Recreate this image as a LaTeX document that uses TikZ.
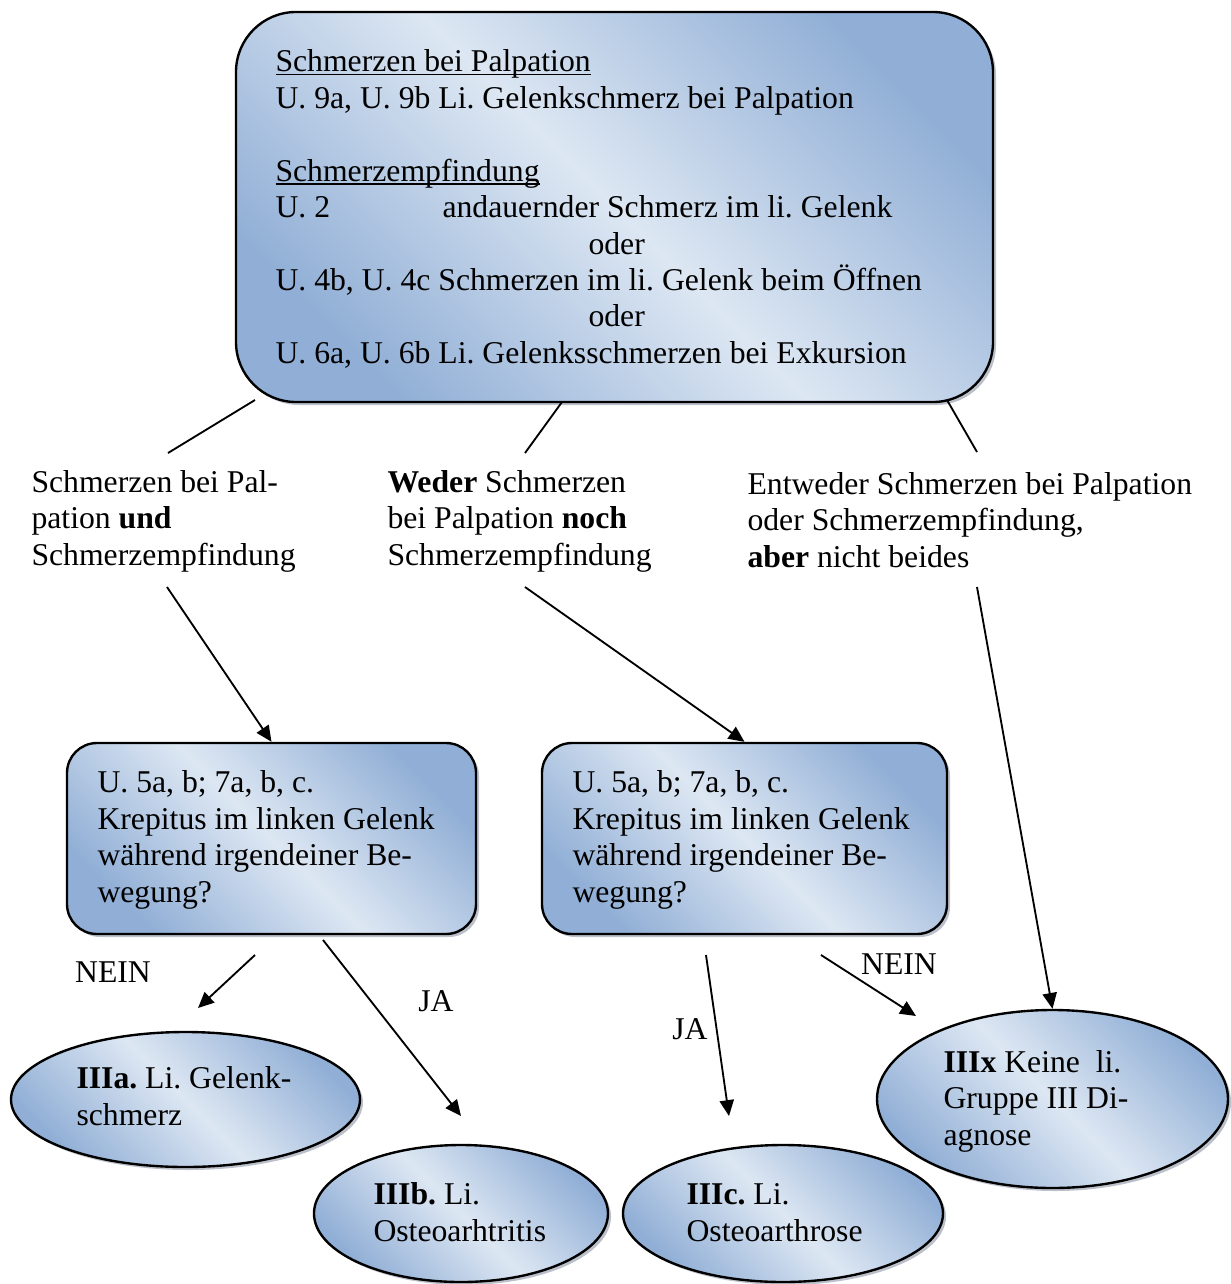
\documentclass[tikz,border=0pt]{standalone}
\usepackage{fontspec}
\setmainfont{Liberation Serif}
\usetikzlibrary{shapes.geometric,arrows.meta,shadows}

\newdimen\pxu \pxu=0.0133cm
\definecolor{bluedark}{RGB}{145,175,214}
\definecolor{bluelight}{RGB}{221,231,243}
\definecolor{shadowgray}{RGB}{120,130,150}
\newcommand\ulined[1]{\setbox0\hbox{#1}\rlap{\rule[-1.4pt]{\wd0}{0.5pt}}\box0}
\frenchspacing

\tikzset{
  fillbox/.style={draw,line width=0.9pt,inner sep=0pt,
    left color=bluedark,right color=bluedark,middle color=bluelight,shading angle=-45,
    drop shadow={shadow xshift=3\pxu,shadow yshift=-3\pxu,fill=shadowgray}},
  roundbox/.style={fillbox,rectangle},
  ovalbox/.style={fillbox,ellipse},
  txt/.style={anchor=west,align=left,inner sep=0pt,font=\fontsize{12}{13.8}\selectfont},
  answer/.style={inner sep=0pt,font=\fontsize{12}{13.8}\selectfont},
  conn/.style={line width=0.7pt},
  arr/.style={conn,-{Triangle[length=6pt,width=5.4pt]}},
}

\begin{document}
\begin{tikzpicture}[x=0.0133cm,y=-0.0133cm]
    \useasboundingbox (0,0) rectangle (1231,1284);

    % boxes
    \node[roundbox,rounded corners=60\pxu,minimum width=757\pxu,minimum height=390\pxu] (top) at (614.5,207) {};
    \node[roundbox,rounded corners=30\pxu,minimum width=409\pxu,minimum height=191\pxu] (krepL) at (271.5,838.5) {};
    \node[roundbox,rounded corners=30\pxu,minimum width=405\pxu,minimum height=191\pxu] (krepR) at (744.5,838.5) {};

    % diagnoses
    \node[ovalbox,minimum width=349\pxu,minimum height=135\pxu] (diagA) at (185.5,1099.5) {};
    \node[ovalbox,minimum width=294\pxu,minimum height=137\pxu] (diagB) at (461,1213.5) {};
    \node[ovalbox,minimum width=320\pxu,minimum height=137\pxu] (diagC) at (783,1213.5) {};
    \node[ovalbox,minimum width=351\pxu,minimum height=178\pxu] (diagX) at (1052.5,1099) {};

    % texts
    \node[txt] (topText) at (275,209) {\ulined{Schmerzen bei Palpation}\\
      U. 9a, U. 9b Li. Gelenkschmerz bei Palpation\\[13.8pt]
      \ulined{Schmerzempfindung}\\
      \makebox[167\pxu][l]{U. 2}andauernder Schmerz im li. Gelenk\\
      \hspace*{313\pxu}oder\\
      U. 4b, U. 4c Schmerzen im li. Gelenk beim Öffnen\\
      \hspace*{313\pxu}oder\\
      U. 6a, U. 6b Li. Gelenksschmerzen bei Exkursion};
    \node[txt] (krepLText) at (97,840) {U. 5a, b; 7a, b, c.\\Krepitus im linken Gelenk\\während irgendeiner Be-\\wegung?};
    \node[txt] (krepRText) at (572,840) {U. 5a, b; 7a, b, c.\\Krepitus im linken Gelenk\\während irgendeiner Be-\\wegung?};

    \node[txt] (both) at (31,521) {Schmerzen bei Pal-\\pation \textbf{und}\\Schmerzempfindung};
    \node[txt] (neither) at (387,521) {\textbf{Weder} Schmerzen\\bei Palpation \textbf{noch}\\Schmerzempfindung};
    \node[txt] (either) at (747,520) {Entweder Schmerzen bei Palpation\\oder Schmerzempfindung,\\\textbf{aber} nicht beides};

    \node[txt] (diagAText) at (76,1096) {\textbf{IIIa.} Li. Gelenk-\\schmerz};
    \node[txt] (diagBText) at (373,1212) {\textbf{IIIb.} Li.\\Osteoarhtritis};
    \node[txt] (diagCText) at (686,1212.5) {\textbf{IIIc.} Li.\\Osteoarthrose};
    \node[txt] (diagXText) at (943,1101) {\textbf{IIIx} Keine\ \ li.\\Gruppe III Di-\\agnose};

    \node[answer] (neinL) at (113,972) {NEIN};
    \node[answer] (jaL) at (436,1001) {JA};
    \node[answer] (jaR) at (690,1029) {JA};
    \node[answer] (neinR) at (899,964) {NEIN};

    % connector ends
    \coordinate (topA) at (255,400);
    \coordinate (topB) at (562,402);
    \coordinate (topC) at (947,400);
    \coordinate (bothT) at (168,453);
    \coordinate (neitherT) at (525,453);
    \coordinate (eitherT) at (977,452);
    \coordinate (bothB) at (167,587);
    \coordinate (neitherB) at (525,587);
    \coordinate (eitherB) at (977,587);
    \coordinate (krepLA) at (255,955);
    \coordinate (krepLB) at (323,940);
    \coordinate (krepRA) at (706,955);
    \coordinate (krepRB) at (821,955);
    \coordinate (neinLEnd) at (198,1008);
    \coordinate (jaLEnd) at (461,1116);
    \coordinate (jaREnd) at (729,1116);
    \coordinate (neinREnd) at (916,1016);

    \draw[conn] (topA) -- (bothT);
    \draw[conn] (topB) -- (neitherT);
    \draw[conn] (topC) -- (eitherT);

    \draw[arr] (bothB) -- (krepL.north);
    \draw[arr] (neitherB) -- (krepR.north);
    \draw[arr] (eitherB) -- (diagX.north);
    \draw[arr] (krepLA) -- (neinLEnd);
    \draw[arr] (krepLB) -- (jaLEnd);
    \draw[arr] (krepRA) -- (jaREnd);
    \draw[arr] (krepRB) -- (neinREnd);
\end{tikzpicture}
\end{document}
